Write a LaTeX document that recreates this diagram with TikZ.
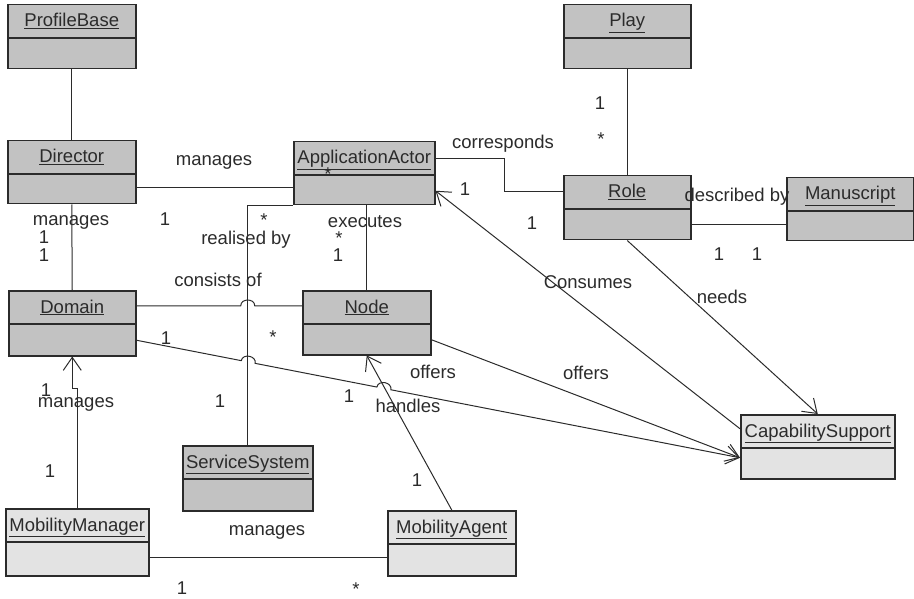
\documentclass[tikz,border=0pt]{standalone}
\usepackage{fontspec}
\setmainfont{Liberation Sans}
\usetikzlibrary{arrows.meta,calc}
\definecolor{ink}{HTML}{2B2B2B}
\definecolor{darkfill}{gray}{0.76}
\definecolor{lightfill}{gray}{0.89}

\begin{document}
\begin{tikzpicture}[x=1pt,y=-1pt,
	font=\fontsize{18.5pt}{22pt}\selectfont,
	classbox/.style={draw=ink,line width=1.5pt,inner sep=0pt,anchor=north west},
	lbl/.style={inner sep=0pt,text=ink},
	assoc/.style={draw=ink,line width=1pt},
	>={Straight Barb[length=13pt,width=18pt]}]
	\useasboundingbox (0,0) rectangle (914,599);
	% classes
	\foreach \nm/\x/\y/\w/\h/\txt/\fc in {
		profilebase/7/4/128/64/ProfileBase/darkfill,
		play/563/4/127/64/Play/darkfill,
		director/7/140/128/63/Director/darkfill,
		aa/293/141/141/63/ApplicationActor/darkfill,
		role/563/175/127/64/Role/darkfill,
		manuscript/786/177/127/63/Manuscript/darkfill,
		domain/8/290/127/65/Domain/darkfill,
		node/302/290/128/64/Node/darkfill,
		ss/182/445/130/65/ServiceSystem/darkfill,
		cap/740/414/154/64/CapabilitySupport/lightfill,
		mm/5/508/143/67/MobilityManager/lightfill,
		ma/387/510/128/65/MobilityAgent/lightfill}
	{
		\node[classbox,fill=\fc,minimum width=\w pt,minimum height=\h pt] (\nm) at (\x,\y) {};
		\node[lbl,anchor=base] (\nm-title) at ([yshift=-23pt]\nm.north) {\underline{\txt}};
		\draw[ink,line width=1.5pt] ([yshift=-34pt]\nm.north west) -- ([yshift=-34pt]\nm.north east);
	}
	% attachment points
	\coordinate (dir-r) at ([yshift=-15.5pt]director.east);
	\coordinate (aa-r) at ([yshift=14.5pt]aa.east);
	\coordinate (aa-in) at ([yshift=-17.5pt]aa.east);
	\coordinate (role-l) at ([yshift=16pt]role.west);
	\coordinate (role-r) at ([yshift=-17pt]role.east);
	\coordinate (dom-t) at ([yshift=17.5pt]domain.east);
	\coordinate (dom-b) at ([yshift=-17pt]domain.east);
	\coordinate (node-r) at ([yshift=-17pt]node.east);
	\coordinate (cap-in) at ([yshift=-11pt]cap.west);
	\coordinate (cap-l) at ([yshift=18pt]cap.west);
	\coordinate (mm-r) at ([yshift=-15.5pt]mm.east);
	% associations
	\draw[assoc] (profilebase.south) -- (director.north);
	\draw[assoc] (play.south) -- (role.north);
	\draw[assoc] (director.south) -- (domain.north);
	\draw[assoc] (dir-r) -- (dir-r -| aa.west);
	\draw[assoc] (aa-r) -- ++(69,0) |- (role-l);
	\draw[assoc] (role-r) -- (role-r -| manuscript.west);
	\draw[assoc] (aa.south west) -| (ss.north);
	\draw[assoc] (node.north |- aa.south) -- (node.north);
	\draw[assoc] (dom-t) -- ($(dom-t -| ss.north)+(-7,0)$) to[bend left=90,looseness=1.4] ++(14,0) -- (dom-t -| node.west);
	\draw[assoc,->] (dom-b) -- ($(dom-b)!0.1736!(cap-in)$) to[bend left=90,looseness=1.4] ($(dom-b)!0.1967!(cap-in)$)
		-- ($(dom-b)!0.3983!(cap-in)$) to[bend left=90,looseness=1.4] ($(dom-b)!0.4215!(cap-in)$) -- (cap-in);
	\draw[assoc,->] (node-r) -- (cap-in);
	\draw[assoc,->] (role.south) -- (cap.north);
	\draw[assoc,->] (cap-l) -- (aa-in);
	\draw[assoc,->] (ma.north) -- (node.south);
	\draw[assoc,->] (mm.north) -- ++(0,-120) -- ++(-5,0) -- (domain.south);
	\draw[assoc] (mm-r) -- (mm-r -| ma.west);
	% role names
	\foreach \x/\y/\t [count=\i] in {214/162/manages, 71/222/manages, 246/240/realised by,
		365/222/executes, 218/280/consists of, 503/144/corresponds, 737/197/described by,
		588/282/Consumes, 722/297/needs, 433/372/offers, 586/373/offers, 76/404/manages,
		408/406/handles, 267/532/manages}
		\node[lbl] (name\i) at (\x,\y) {\t};
	% multiplicities
	\foreach \x/\y [count=\i] in {165/219, 44/237, 44/255, 338/255, 465/189, 532/223, 600/103,
		719/254, 757/254, 166/338, 46/390, 220/401, 349/396, 50/471, 417/480, 182/588}
		\node[lbl] (one\i) at (\x,\y) {1};
	\foreach \x/\y [count=\i] in {328/170, 264/216, 339/234, 601/135, 273/333, 356/585}
		\node[lbl,anchor=base] (many\i) at (\x,\y+10.5) {*};
\end{tikzpicture}
\end{document}
